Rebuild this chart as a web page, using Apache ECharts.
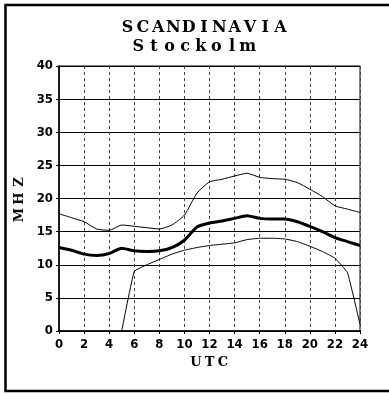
<!DOCTYPE html>
<html>
<head>
<meta charset="utf-8">
<script src="https://cdn.jsdelivr.net/npm/echarts@6/dist/echarts.min.js"></script>
<style>
  html, body { margin: 0; padding: 0; background: #fff; }
  #chart { width: 389px; height: 394px; }
</style>
</head>
<body>
<div id="chart"></div>
<script>
// Hours of the day (UTC)
const hours = [0,1,2,3,4,5,6,7,8,9,10,11,12,13,14,15,16,17,18,19,20,21,22,23,24];

// Upper frequency limit (MHz)
const upperMHz = [17.7,17.1,16.5,15.4,15.2,16.0,15.8,15.6,15.4,16.0,17.5,20.8,22.5,22.9,23.4,23.8,23.2,23.0,22.9,22.4,21.4,20.3,18.9,18.4,17.9];

// Optimum working frequency (MHz)
const middleMHz = [12.6,12.2,11.6,11.4,11.7,12.5,12.1,12.0,12.1,12.6,13.7,15.7,16.3,16.6,17.0,17.4,17.0,16.9,16.9,16.5,15.8,15.0,14.1,13.5,12.9];

// Lowest usable frequency (MHz); no value before 05 UTC
const lowerMHz = [null,null,null,null,null,0,9.0,10.0,10.8,11.6,12.2,12.6,12.9,13.1,13.3,13.8,14.0,14.0,13.9,13.5,12.8,12.0,11.0,8.8,1.0];

const titleMain = 'SCANDINAVIA';
const titleSub = 'Stockolm';
const yName = 'MHZ';
const xName = 'UTC';

const pairs = vals => hours.map((h, i) => [h, vals[i]]);
// spread the letters of a word evenly, one rich-text cell per letter
const spread = (s, key) => s.split('').map(ch => '{' + key + '|' + ch + '}').join('');

const serifBold = { fontFamily: 'DejaVu Serif', fontWeight: 'bold', color: '#000' };
const tickFont = { fontFamily: 'DejaVu Sans Condensed', fontWeight: 'bold', fontSize: 13, color: '#000' };

const chart = echarts.init(document.getElementById('chart'), null, { renderer: 'canvas' });

chart.setOption({
  animation: false,
  backgroundColor: '#fff',
  title: [
    {
      text: spread(titleMain, 'c'),
      left: 199, top: 15, textAlign: 'center',
      textStyle: { rich: { c: Object.assign({ fontSize: 16, width: 15.3, align: 'center' }, serifBold) } }
    },
    {
      text: spread(titleSub, 'c'),
      left: 188, top: 34, textAlign: 'center',
      textStyle: { rich: { c: Object.assign({ fontSize: 16, width: 15.6, align: 'center' }, serifBold) } }
    }
  ],
  graphic: [
    {
      type: 'rect',
      shape: { x: 5.5, y: 5, width: 392, height: 386 },
      style: { fill: null, stroke: '#000', lineWidth: 2.5 },
      silent: true
    }
  ],
  grid: {
    left: 59, right: 29, top: 66, bottom: 63,
    show: true, borderColor: '#000', borderWidth: 1
  },
  xAxis: {
    type: 'value', min: 0, max: 24, interval: 2,
    name: spread(xName, 'c'), nameLocation: 'middle', nameGap: 22,
    nameTextStyle: { rich: { c: Object.assign({ fontSize: 13, width: 13.5, align: 'center' }, serifBold) } },
    axisLine: { lineStyle: { color: '#000', width: 1.5 } },
    axisTick: { show: true, length: 3, lineStyle: { color: '#000' } },
    axisLabel: Object.assign({ margin: 7 }, tickFont),
    splitLine: { show: true, lineStyle: { color: '#444', width: 1, type: [3, 3] } }
  },
  yAxis: {
    type: 'value', min: 0, max: 40, interval: 5,
    name: spread(yName, 'c'), nameLocation: 'middle', nameGap: 33, nameRotate: 90,
    nameTextStyle: { rich: { c: Object.assign({ fontSize: 13, width: 16.5, align: 'center' }, serifBold) } },
    axisLine: { show: true, lineStyle: { color: '#000', width: 1.5 } },
    axisTick: { show: true, length: 3, lineStyle: { color: '#000' } },
    axisLabel: Object.assign({ margin: 6 }, tickFont),
    splitLine: { show: true, lineStyle: { color: '#000', width: 1.2 } }
  },
  series: [
    {
      type: 'line', data: pairs(upperMHz), showSymbol: false, smooth: 0.2,
      lineStyle: { color: '#000', width: 1 }
    },
    {
      type: 'line', data: pairs(middleMHz), showSymbol: false, smooth: 0.2,
      lineStyle: { color: '#000', width: 3 }
    },
    {
      type: 'line', data: pairs(lowerMHz), showSymbol: false, smooth: 0.1,
      connectNulls: false,
      lineStyle: { color: '#000', width: 1 }
    }
  ]
});
</script>
</body>
</html>
